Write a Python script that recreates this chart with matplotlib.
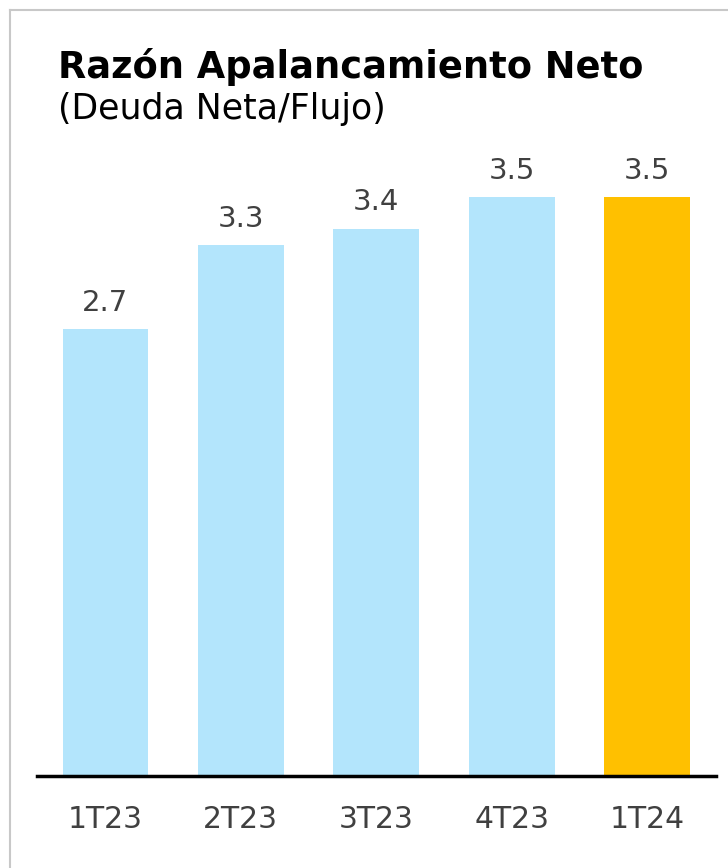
import matplotlib.pyplot as plt
from matplotlib.lines import Line2D

quarters = ["1T23", "2T23", "3T23", "4T23", "1T24"]
ratios = [2.70, 3.21, 3.31, 3.50, 3.50]
ratio_labels = ["2.7", "3.3", "3.4", "3.5", "3.5"]
bar_colors = ["#B3E5FC", "#B3E5FC", "#B3E5FC", "#B3E5FC", "#FFC000"]

W, H = 728, 868
fig = plt.figure(figsize=(W / 100, H / 100), dpi=100)

# axes placed in pixel terms: baseline at y=776, x from 37 to 716
ax = fig.add_axes([37 / W, (H - 776) / H, (716 - 37) / W, (776 - 150) / H])
ax.bar(range(len(quarters)), ratios, width=0.635, color=bar_colors)
ax.set_xlim(-0.506, 4.51)
ax.set_ylim(0, 626 / 165.4)

for i, (v, lab) in enumerate(zip(ratios, ratio_labels)):
    ax.annotate(lab, (i, v), xytext=(0, 9), textcoords="offset points",
                ha="center", va="bottom", fontsize=21, color="#404040")

ax.set_xticks(range(len(quarters)))
ax.set_xticklabels(quarters, fontsize=21.5, color="#404040")
ax.tick_params(axis="x", length=0, pad=21)
ax.set_yticks([])
for s in ["top", "right", "left"]:
    ax.spines[s].set_visible(False)
ax.spines["bottom"].set_linewidth(2.5)
ax.spines["bottom"].set_color("black")

fig.text(58 / W, 1 - 78 / H, "Razón Apalancamiento Neto", fontsize=26.5,
         fontweight="bold", color="black", va="baseline")
fig.text(58 / W, 1 - 119 / H, "(Deuda Neta/Flujo)", fontsize=25,
         color="black", va="baseline")

# light gray frame at top and left
fig.add_artist(Line2D([9.5 / W, 1], [1 - 9.5 / H, 1 - 9.5 / H], color="#C8C8C8", lw=1.5))
fig.add_artist(Line2D([9.5 / W, 9.5 / W], [0, 1 - 9.5 / H], color="#C8C8C8", lw=1.5))

fig.savefig("out.png", dpi=100)
